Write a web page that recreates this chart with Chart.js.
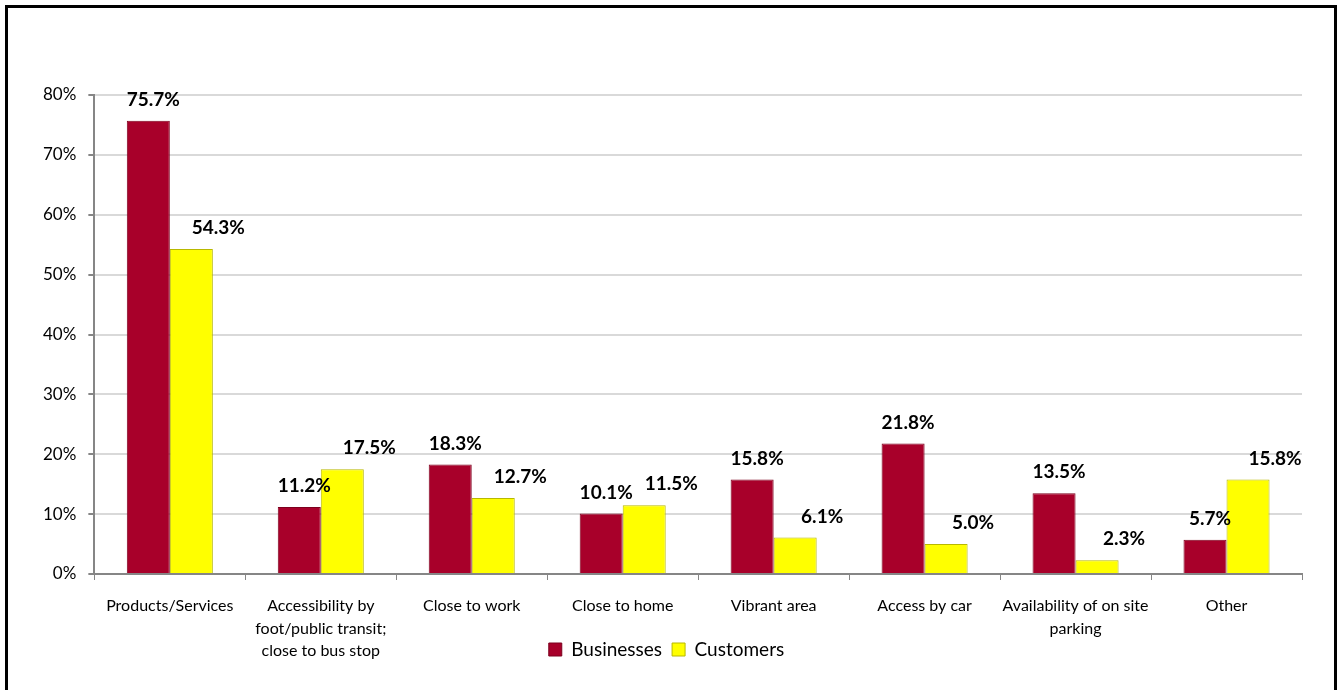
<!DOCTYPE html>
<html>
<head>
<meta charset="utf-8">
<script src="https://cdn.jsdelivr.net/npm/chart.js@4.4.1/dist/chart.umd.min.js"></script>
<style>
  html, body { margin: 0; padding: 0; background: #fff; }
  #wrap { position: absolute; left: 0; top: 0; width: 1342px; height: 690px; }
  #frame { position: absolute; left: 5px; top: 5px; width: 1326px; height: 700px;
           border: 3px solid #000; pointer-events: none; }
</style>
</head>
<body>
<div id="wrap"><canvas id="reasonsChart"></canvas></div>
<div id="frame"></div>
<script>
// Reasons for choosing the location - businesses vs customers (%)
const categories = [
    'Products/Services',
    ['Accessibility by', 'foot/public transit;', 'close to bus stop'],
    'Close to work',
    'Close to home',
    'Vibrant area',
    'Access by car',
    ['Availability of on site', 'parking'],
    'Other'
];
const businesses = [75.7, 11.2, 18.3, 10.1, 15.8, 21.8, 13.5, 5.7];
const customers  = [54.3, 17.5, 12.7, 11.5, 6.1, 5.0, 2.3, 15.8];
const yTicks = [0, 10, 20, 30, 40, 50, 60, 70, 80];

const FONT = 'Lato, "Open Sans", sans-serif';

// value labels above each bar (customer labels sit a bit to the right, like the original)
const valueLabels = {
    id: 'valueLabels',
    afterDatasetsDraw(chart) {
        const ctx = chart.ctx;
        ctx.save();
        ctx.font = 'bold 19px ' + FONT;
        ctx.fillStyle = '#000';
        ctx.textAlign = 'center';
        ctx.textBaseline = 'middle';
        chart.data.datasets.forEach((ds, i) => {
            const dx = i === 0 ? 5 : 27;
            chart.getDatasetMeta(i).data.forEach((bar, j) => {
                ctx.fillText(ds.data[j].toFixed(1) + '%', bar.x + dx, bar.y - 21);
            });
        });
        ctx.restore();
    }
};

// the x axis is squeezed so the legend sits beside the wrapped labels;
// widen its box again after layout so the labels are not clipped
const unclipX = {
    id: 'unclipX',
    afterLayout(chart) { chart.scales.x.bottom = chart.height; }
};

new Chart(document.getElementById('reasonsChart'), {
    type: 'bar',
    data: {
        labels: categories,
        datasets: [
            { label: 'Businesses', data: businesses, backgroundColor: '#A8002A',
              borderColor: '#7d001e', borderWidth: 1 },
            { label: 'Customers', data: customers, backgroundColor: '#FFFF00',
              borderColor: '#b8b800', borderWidth: 1 }
        ]
    },
    options: {
        responsive: true,
        maintainAspectRatio: false,
        animation: false,
        categoryPercentage: 0.57,
        barPercentage: 1.0,
        layout: { padding: { left: 31, right: 40, top: 95, bottom: 21 } },
        plugins: {
            legend: {
                position: 'bottom',
                labels: { color: '#000', font: { family: FONT, size: 19 },
                          boxWidth: 13, boxHeight: 13, padding: 10 }
            },
            tooltip: { enabled: false }
        },
        scales: {
            x: {
                afterFit(axis) { axis.height = 56; },
                grid: { offset: true, drawOnChartArea: false, drawTicks: true,
                        tickLength: 6, color: '#868686' },
                border: { color: '#868686', width: 2 },
                ticks: { color: '#000', font: { family: FONT, size: 16, lineHeight: 1.4 },
                         maxRotation: 0, padding: 15 }
            },
            y: {
                min: 0, max: 80,
                afterBuildTicks(axis) { axis.ticks = yTicks.map(v => ({ value: v })); },
                grid: { color: '#d9d9d9', lineWidth: 2, tickLength: 6,
                        tickColor: '#868686' },
                border: { color: '#868686', width: 2 },
                ticks: { color: '#000', font: { family: FONT, size: 17 },
                         padding: 12, callback: v => v + '%' }
            }
        }
    },
    plugins: [valueLabels, unclipX]
});
</script>
</body>
</html>
